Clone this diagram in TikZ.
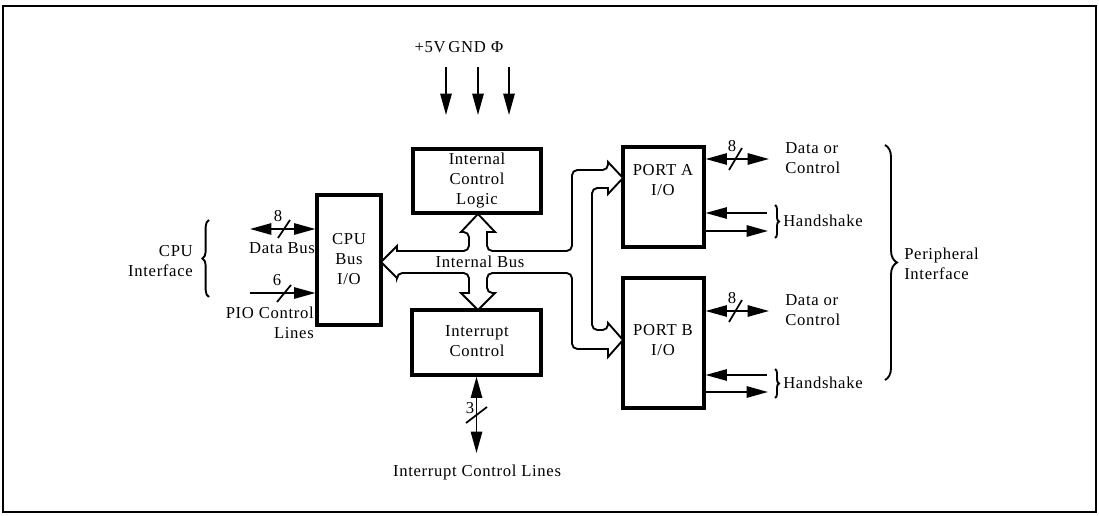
\documentclass[tikz,border=0pt]{standalone}
\usepackage{fontspec}
\setmainfont{Liberation Serif}[LetterSpace=4]
\usetikzlibrary{arrows.meta,calc,fit,decorations.pathreplacing}
\begin{document}
\begin{tikzpicture}[x=0.75pt,y=-0.75pt,
  >={Triangle[length=16pt,width=8.5pt]},
  txt/.style={font=\fontsize{12.5}{15}\selectfont},
  blk/.style={draw,line width=2.4pt,inner sep=0pt},
  lbl/.style={inner sep=0pt,align=center,txt},
  sig/.style={line width=1.3pt},
  bus/.style={draw,fill=white,line width=1.4pt},
  brc/.style={decorate,decoration={brace,amplitude=#1},line width=1.4pt},
  brc/.default=4pt]
\useasboundingbox (0,0) rectangle (1099,516);
\draw[line width=1.1pt] (3,6) rectangle (1096,512);

% blocks
\node[blk,fit={(317,195)(381,325)}] (cpu) {};
\node[blk,fit={(413,149)(541,213)}] (icl) {};
\node[blk,fit={(412,310)(541,375)}] (ic) {};
\node[blk,fit={(623,147)(704,247)}] (pa) {};
\node[blk,fit={(623,278)(704,408)}] (pb) {};
\node[lbl] (cpuT) at (349,259) {CPU\\Bus\\I/O};
\node[lbl] (iclT) at (477,181) {Internal\\Control\\Logic};
\node[lbl] (icT) at (477,341) {Interrupt\\Control};
\node[lbl] (paT) at (663,180) {PORT A\\I/O};
\node[lbl] (pbT) at (663,340) {PORT B\\I/O};

% internal bus
\draw[bus] (381,262) -- (397,246) -- (397,251)
  [rounded corners=4pt] -- (469,251) -- (469,232) [sharp corners] -- (461,232) -- (478,214) -- (495,232) -- (487,232)
  [rounded corners=4pt] -- (487,251) -- (572,251) -- (572,170) -- (608,170) [sharp corners] -- (608,162) -- (623,178) -- (608,194) -- (608,188)
  [rounded corners=4pt] -- (592,188) -- (592,330) -- (608,330) [sharp corners] -- (608,323) -- (623,340) -- (608,357) -- (608,349)
  [rounded corners=4pt] -- (572,349) -- (572,273) -- (487,273) -- (487,293) [sharp corners] -- (495,293) -- (478,310) -- (461,293) -- (469,293)
  [rounded corners=4pt] -- (469,273) -- (397,273) [sharp corners] -- (397,278) -- cycle;
\node[lbl] (ib) at (480,262) {Internal Bus};

% power inputs
\node[lbl] (pwr) at (459,47) {+5V\hspace{2pt}GND\hspace{4pt}Φ};
\coordinate (p1a) at (446,67); \coordinate (p1b) at (446,115);
\coordinate (p2a) at (478,67); \coordinate (p2b) at (478,115);
\coordinate (p3a) at (509,67); \coordinate (p3b) at (509,115);
\draw[sig,->] (p1a) -- (p1b);
\draw[sig,->] (p2a) -- (p2b);
\draw[sig,->] (p3a) -- (p3b);

% CPU side
\coordinate (db) at (250,229);
\draw[sig,<->] (db) -- (db -| cpu.west);
\draw[sig] (278,238) -- (290,220);
\node[lbl] (n8a) at (278,216) {8};
\node[lbl] (dbl) at (282,248) {Data Bus};
\coordinate (pio) at (250,293);
\draw[sig,->] (pio) -- (pio -| cpu.west);
\draw[sig] (277,302) -- (291,285);
\node[lbl] (n6) at (277,280) {6};
\node[lbl,align=right,anchor=east] (piol) at (314,323) {PIO Control\\Lines};
\draw[brc=5pt] (209,297) -- (209,220);
\node[lbl,align=right,anchor=east] (cpui) at (193,261) {CPU\\Interface};

% interrupt lines
\coordinate (icb) at (476.5,453);
\draw[sig,<->] (ic.south) -- (icb);
\draw[sig] (466,423) -- (487,407);
\node[lbl] (n3) at (470,408) {3};
\node[lbl] (icll) at (477,472) {Interrupt Control Lines};

% port A
\coordinate (pad) at (769,159);
\draw[sig,<->] (pa.east |- pad) -- (pad);
\draw[sig] (729,170) -- (742,148);
\node[lbl] (n8b) at (732,146) {8};
\node[lbl,align=left,anchor=west] (pal) at (785,158) {Data or\\Control};
\coordinate (hai) at (767,213);
\coordinate (hao) at (768,231);
\draw[sig,->] (hai) -- (hai -| pa.east);
\draw[sig,->] (hao -| pa.east) -- (hao);
\draw[brc=3pt] (775,205) -- (775,238);
\node[lbl,anchor=west] (hal) at (783,221) {Handshake};

% port B
\coordinate (pbd) at (769,311);
\draw[sig,<->] (pb.east |- pbd) -- (pbd);
\draw[sig] (729,322) -- (742,300);
\node[lbl] (n8c) at (732,298) {8};
\node[lbl,align=left,anchor=west] (pbl) at (785,310) {Data or\\Control};
\coordinate (hbi) at (767,375);
\coordinate (hbo) at (768,392);
\draw[sig,->] (hbi) -- (hbi -| pb.east);
\draw[sig,->] (hbo -| pb.east) -- (hbo);
\draw[brc=3pt] (775,369) -- (775,398);
\node[lbl,anchor=west] (hbl) at (783,383) {Handshake};

% peripheral interface
\draw[brc=9pt] (885,145) -- (885,380);
\node[lbl,align=left,anchor=west] (pil) at (904,264) {Peripheral\\Interface};
\end{tikzpicture}
\end{document}
